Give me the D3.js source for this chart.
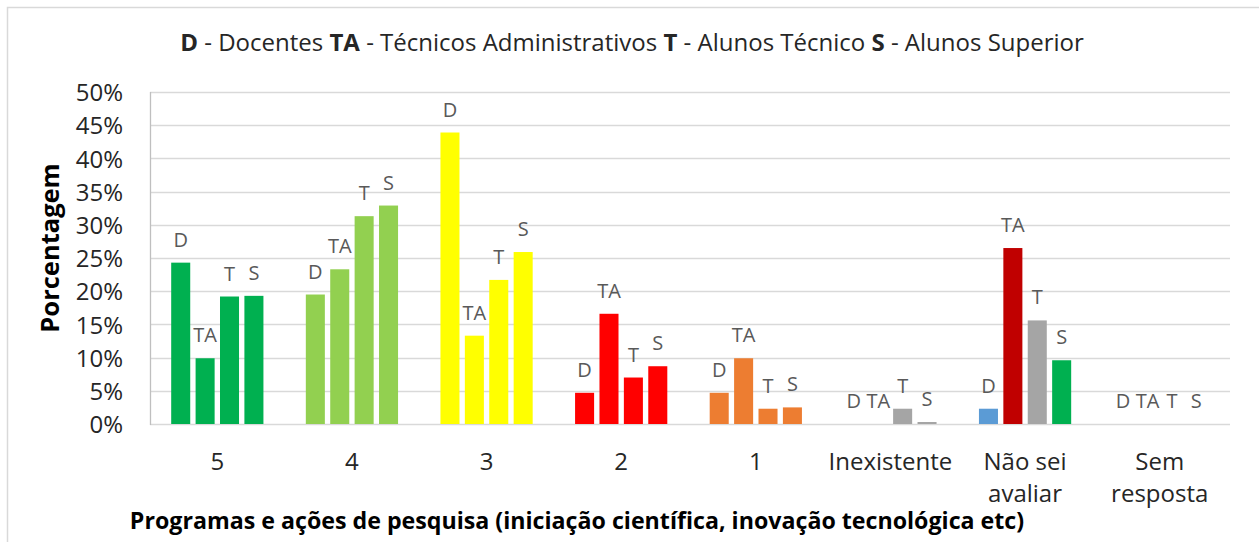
<!DOCTYPE html>
<html>
<head>
<meta charset="utf-8">
<script src="https://cdn.jsdelivr.net/npm/d3@7"></script>
<style>
  body { margin: 0; background: #fff; }
  svg { display: block; font-family: "Open Sans", sans-serif; }
</style>
</head>
<body>
<svg id="chart" width="1259" height="542"></svg>
<script>
const categories = ["5", "4", "3", "2", "1", "Inexistente", "Não sei\navaliar", "Sem\nresposta"];
const series = ["D", "TA", "T", "S"];
const valuesD  = [24.3, 19.5, 43.9, 4.7, 4.7, 0, 2.3, 0];
const valuesTA = [9.9, 23.3, 13.3, 16.6, 9.9, 0, 26.5, 0];
const valuesT  = [19.2, 31.3, 21.7, 7.0, 2.3, 2.3, 15.6, 0];
const valuesS  = [19.3, 32.9, 25.9, 8.7, 2.5, 0.3, 9.6, 0];
const yTicks = [0, 5, 10, 15, 20, 25, 30, 35, 40, 45, 50];

const barColors = [
  ["#00B050", "#00B050", "#00B050", "#00B050"],
  ["#92D050", "#92D050", "#92D050", "#92D050"],
  ["#FFFF00", "#FFFF00", "#FFFF00", "#FFFF00"],
  ["#FF0000", "#FF0000", "#FF0000", "#FF0000"],
  ["#ED7D31", "#ED7D31", "#ED7D31", "#ED7D31"],
  ["#A5A5A5", "#A5A5A5", "#A5A5A5", "#A5A5A5"],
  ["#5B9BD5", "#C00000", "#A5A5A5", "#00B050"],
  ["#A5A5A5", "#A5A5A5", "#A5A5A5", "#A5A5A5"]
];

const seriesValues = [valuesD, valuesTA, valuesT, valuesS];
const data = categories.map((c, i) => ({
  cat: c, i,
  vals: series.map((s, j) => ({ s, j, v: seriesValues[j][i] }))
}));

const svg = d3.select("#chart");
const plot = { left: 150, right: 1227, top: 92, bottom: 424, gridRight: 1230 };

// outer frame
svg.append("rect").attr("x", 7.5).attr("y", 7.5).attr("width", 1259).attr("height", 600)
  .attr("fill", "none").attr("stroke", "#D9D9D9").attr("stroke-width", 1.5);

const x0 = d3.scaleBand().domain(categories).range([plot.left, plot.right]).padding(0);
const bw = x0.bandwidth();
const x1 = d3.scaleBand().domain(series).range([(bw - 97.6) / 2, (bw + 97.6) / 2])
  .paddingInner(0.22).paddingOuter(0.11);
const y = d3.scaleLinear().domain([0, 50]).range([plot.bottom, plot.top]);

// gridlines
svg.append("g").selectAll("line").data(yTicks).join("line")
  .attr("x1", plot.left).attr("x2", plot.gridRight)
  .attr("y1", d => Math.round(y(d)) + 0.5).attr("y2", d => Math.round(y(d)) + 0.5)
  .attr("stroke", "#D9D9D9").attr("stroke-width", 1.3);

// left axis line
svg.append("line").attr("x1", plot.left + 0.5).attr("x2", plot.left + 0.5)
  .attr("y1", plot.top).attr("y2", plot.bottom + 1)
  .attr("stroke", "#BFBFBF").attr("stroke-width", 1.3);

// y axis tick labels
const yAxis = d3.axisLeft(y).tickValues(yTicks).tickFormat(d => d + "%").tickSize(0).tickPadding(0);
const gy = svg.append("g").attr("transform", `translate(${plot.left - 27},0)`).call(yAxis);
gy.select(".domain").remove();
gy.selectAll("text").attr("font-size", 24).attr("fill", "#262626")
  .attr("font-family", "'Open Sans', sans-serif").attr("dy", "0.36em");

// bars
const groups = svg.append("g").selectAll("g").data(data).join("g")
  .attr("transform", d => `translate(${x0(d.cat)},0)`);

groups.selectAll("rect").data(d => d.vals.map(o => ({ ...o, ci: d.i }))).join("rect")
  .attr("x", d => x1(d.s)).attr("width", x1.bandwidth())
  .attr("y", d => y(d.v)).attr("height", d => y(0) - y(d.v))
  .attr("fill", d => barColors[d.ci][d.j]);

groups.selectAll("text.lbl").data(d => d.vals).join("text").attr("class", "lbl")
  .attr("x", d => x1(d.s) + x1.bandwidth() / 2)
  .attr("y", d => y(d.v) - 16)
  .attr("text-anchor", "middle").attr("font-size", 20).attr("fill", "#595959")
  .text(d => d.s);

// x axis labels
const gx = svg.append("g");
data.forEach(d => {
  const lines = d.cat.split("\n");
  const t = gx.append("text").attr("text-anchor", "middle")
    .attr("font-size", 24).attr("fill", "#262626")
    .attr("x", x0(d.cat) + bw / 2).attr("y", 470);
  lines.forEach((ln, k) => t.append("tspan").attr("x", x0(d.cat) + bw / 2)
    .attr("dy", k === 0 ? 0 : 32).text(ln));
});

// title
const title = svg.append("text").attr("x", 632).attr("y", 51).attr("text-anchor", "middle")
  .attr("font-size", 24).attr("fill", "#262626");
[["D", true], [" - Docentes ", false], ["TA", true], [" - Técnicos Administrativos ", false],
 ["T", true], [" - Alunos Técnico ", false], ["S", true], [" - Alunos Superior", false]]
  .forEach(([txt, b]) => title.append("tspan").attr("font-weight", b ? "bold" : "normal").text(txt));

// y axis title
svg.append("text").attr("transform", "translate(59,248) rotate(-90)")
  .attr("text-anchor", "middle").attr("font-size", 25.5).attr("font-weight", "bold")
  .attr("fill", "#000").text("Porcentagem");

// x axis title
svg.append("text").attr("x", 577).attr("y", 529).attr("text-anchor", "middle")
  .attr("font-size", 23.2).attr("font-weight", "bold").attr("fill", "#000")
  .text("Programas e ações de pesquisa (iniciação científica, inovação tecnológica etc)");
</script>
</body>
</html>
